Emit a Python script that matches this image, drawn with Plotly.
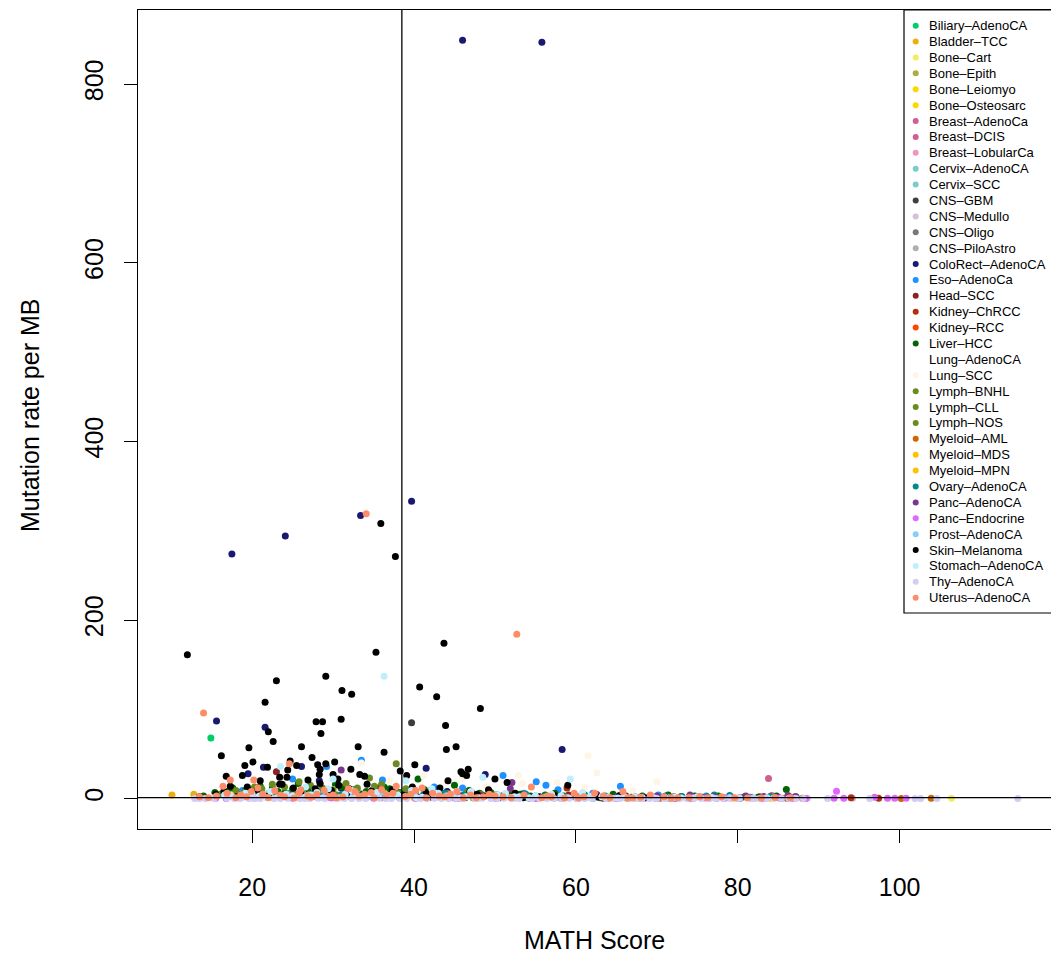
import plotly.graph_objects as go

# ---- data: (MATH score, mutations per MB) per cancer type ----
cancer_types = [
    "Biliary-AdenoCA", "Bladder-TCC", "Bone-Cart", "Bone-Epith", "Bone-Leiomyo",
    "Bone-Osteosarc", "Breast-AdenoCa", "Breast-DCIS", "Breast-LobularCa",
    "Cervix-AdenoCA", "Cervix-SCC", "CNS-GBM", "CNS-Medullo", "CNS-Oligo",
    "CNS-PiloAstro", "ColoRect-AdenoCA", "Eso-AdenoCa", "Head-SCC", "Kidney-ChRCC",
    "Kidney-RCC", "Liver-HCC", "Lung-AdenoCA", "Lung-SCC", "Lymph-BNHL",
    "Lymph-CLL", "Lymph-NOS", "Myeloid-AML", "Myeloid-MDS", "Myeloid-MPN",
    "Ovary-AdenoCA", "Panc-AdenoCA", "Panc-Endocrine", "Prost-AdenoCA",
    "Skin-Melanoma", "Stomach-AdenoCA", "Thy-AdenoCA", "Uterus-AdenoCA",
]

type_colors = [
    "#00CD66", "#EEAD0E", "#F0EE60", "#ADAC44", "#FFD700",
    "#FFD700", "#CD6090", "#CD6090", "#F095BD",
    "#79CDCD", "#79CDCD", "#3D3D3D", "#D8BFD8", "#787878",
    "#B0B0B0", "#191970", "#1E90FF", "#8B2323", "#B32F0B",
    "#FF4500", "#006400", "#FFFFFF", "#FDF5E6", "#698B22",
    "#698B22", "#698B22", "#CD6600", "#FFC100", "#FFC100",
    "#008B8B", "#7A378B", "#E066FF", "#87CEFA",
    "#000000", "#BFEFFF", "#D3CCF5", "#FF8C69",
]

biliary = [(14.9, 68), (18.5, 4), (22.0, 2), (26.8, 3), (31.2, 1.5), (35.0, 5), (41.0, 2.5),
           (47.9, 1), (55.0, 3), (62.2, 2), (70.1, 1.2), (24.5, 6), (38.2, 1)]
bladder = [(10.1, 4), (12.8, 5), (17.5, 12), (24.0, 6), (29.3, 8), (33.0, 3), (39.4, 10),
           (44.0, 4), (52.0, 2), (60.5, 3), (36.2, 7), (47.5, 2)]
bone_cart = [(44.2, 0.5), (58.1, 0.6), (66.3, 0.4), (74.0, 0.3), (106.4, 0.5)]
bone_epith = [(30.2, 1), (47.3, 0.8), (63.1, 0.7), (76.4, 1.2)]
bone_leiomyo = [(35.1, 0.9), (52.4, 0.7), (68.2, 0.6), (79.3, 0.5)]
bone_osteosarc = [(26.3, 2), (41.2, 1.5), (55.4, 1.0), (64.2, 1.8), (72.3, 0.8), (84.5, 0.6)]
breast_adeno = [(19.8, 3), (24.6, 5), (29.1, 2), (33.7, 4), (38.1, 3), (43.2, 2), (48.3, 1.5),
                (53.3, 2.5), (58.4, 1), (64.1, 1.2), (71.2, 0.9), (77.3, 1.5), (83.8, 22.6),
                (84.2, 3.5), (22.5, 1.5), (27.0, 7), (31.8, 5), (36.4, 2), (41.5, 4), (46.0, 3),
                (50.7, 1), (56.1, 2), (61.0, 1.5), (67.5, 1), (74.6, 0.8), (80.5, 1.2), (86.8, 0.6)]
breast_dcis = [(36.0, 1.0), (50.2, 1.2)]
breast_lobular = [(28.0, 1.5), (40.3, 1.2), (57.2, 0.8), (45.1, 2)]
cervix_adeno = [(30.2, 4), (45.3, 3)]
cervix_scc = [(23.3, 5), (33.2, 7), (42.1, 4), (50.3, 3), (61.2, 2), (27.5, 9)]
cns_gbm = [(39.7, 85), (28.2, 2), (37.1, 1.5), (46.3, 1), (54.2, 0.8), (63.4, 0.5), (70.5, 0.6)]
cns_medullo = [(40.1, 0.3), (45.7, 0.2), (50.2, 0.4), (55.3, 0.3), (60.4, 0.3), (65.0, 0.2),
               (70.3, 0.2), (74.1, 0.4), (78.2, 0.3), (82.0, 0.2), (86.1, 0.2), (88.6, 0.3), (94.2, 0.3)]
cns_oligo = [(45.2, 0.5), (60.1, 0.4), (72.3, 0.3), (66.4, 0.5)]
cns_piloastro = [(58.2, 0.1), (62.1, 0.1), (68.0, 0.1), (71.6, 0.1), (74.2, 0.15), (77.4, 0.1),
                 (80.3, 0.1), (83.0, 0.1), (86.2, 0.12)]
colorect = [(46.0, 849), (55.8, 847), (39.7, 333), (33.4, 317), (24.1, 294), (17.5, 274),
            (15.6, 87), (21.6, 80), (58.3, 55), (41.5, 34), (48.8, 27), (19.5, 28), (21.4, 35),
            (26.1, 36), (31.0, 12), (36.0, 6), (44.1, 8), (52.0, 4), (60.2, 3), (66.0, 2),
            (28.3, 20), (34.8, 9)]
eso = [(33.5, 43), (51.0, 26), (55.1, 19), (56.3, 15), (65.5, 14), (57.8, 10), (42.5, 13),
       (18.8, 9), (25.0, 22), (29.2, 36), (36.1, 21), (46.0, 12), (62.1, 6), (70.2, 4), (76.1, 3),
       (23.1, 7), (39.0, 5), (49.3, 8), (53.6, 6), (59.8, 5)]
head_scc = [(23.0, 30), (31.5, 14), (40.1, 9), (47.2, 6), (53.3, 5), (59.1, 4), (66.2, 3),
            (74.0, 2), (35.6, 12), (27.9, 4)]
kidney_chrcc = [(94.0, 1), (97.4, 0.5), (80.2, 0.8), (86.1, 0.6), (58.9, 12), (82.7, 2)]
kidney_rcc = [(28.1, 2.5), (36.2, 2), (44.0, 3), (51.2, 1.5), (57.0, 1.8), (65.1, 1.2),
              (72.0, 1), (78.3, 0.9)]
liver = [(86.0, 10.3), (45.0, 15), (40.5, 22), (16.9, 8), (25.7, 17), (20.0, 10), (22.5, 12),
         (28.5, 9), (31.0, 13), (34.1, 8), (37.0, 11), (42.0, 7), (48.1, 6), (52.0, 5), (56.2, 4),
         (61.0, 3.5), (67.1, 3), (73.0, 2.5), (79.1, 2), (18.2, 5), (24.0, 6), (26.9, 11),
         (29.8, 7), (32.6, 10), (35.5, 6), (39.3, 9), (43.6, 5), (50.3, 4), (54.4, 3), (58.5, 3),
         (63.6, 2.5), (70.0, 2), (76.2, 1.8), (82.5, 1.5), (84.8, 3),
         (14.0, 3), (15.4, 7), (17.6, 12), (19.2, 9), (21.0, 14), (23.2, 8), (25.0, 11),
         (27.6, 6), (30.3, 16), (33.6, 5), (36.3, 13), (38.2, 7), (41.3, 10), (44.3, 4),
         (46.8, 9), (49.5, 7), (53.1, 5), (57.4, 6), (60.0, 4), (64.6, 5), (68.2, 3), (71.4, 4),
         (74.7, 3), (77.6, 3), (80.9, 2.5), (87.1, 2)]
lung_adeno = [(30.1, 10), (45.3, 8), (60.0, 5), (38.8, 14)]
lung_scc = [(61.5, 48), (62.6, 29), (70.0, 19), (52.9, 26), (57.7, 18), (61.1, 13), (67.0, 9),
            (53.4, 17), (33.5, 40), (46.0, 22), (41.2, 25), (37.0, 20), (49.0, 14), (44.0, 18)]
lymph_bnhl = [(37.8, 39), (34.5, 23), (21.2, 11), (27.2, 15), (24.0, 13), (30.0, 10), (33.0, 12),
              (40.2, 8), (44.1, 6), (50.0, 4), (19.0, 7), (36.0, 16),
              (16.0, 5), (18.0, 9), (20.3, 13), (22.5, 16), (25.8, 19), (28.7, 12), (31.6, 17),
              (35.1, 14), (39.0, 11), (42.0, 9), (46.5, 7), (48.3, 5)]
lymph_cll = [(18.1, 4), (23.0, 3), (28.2, 3.5), (32.1, 2.5), (36.3, 2), (42.0, 1.5), (48.0, 1),
             (25.5, 5), (30.5, 4)]
lymph_nos = [(26.1, 8), (38.1, 6)]
myeloid_aml = [(100.2, 0.2), (103.9, 0.4), (55.1, 0.5), (64.0, 0.4), (70.2, 0.3), (80.1, 0.3),
               (88.0, 0.3), (85.5, 0.5)]
myeloid_mds = [(35.0, 2), (50.1, 1), (17.6, 3)]
myeloid_mpn = [(40.0, 1), (55.3, 0.8), (68.1, 0.5), (84.0, 0.5)]
ovary = [(20.1, 3), (26.0, 4), (31.1, 5), (36.0, 6), (41.2, 5), (46.1, 4), (51.0, 3.5), (56.2, 3),
         (61.1, 4), (66.0, 2.5), (71.1, 3), (75.2, 2), (79.0, 3.5), (84.0, 2.5), (23.4, 2),
         (28.6, 6), (33.9, 3), (38.7, 4), (43.8, 6), (48.5, 2), (53.8, 5), (58.7, 2), (63.6, 3),
         (68.4, 1.8), (73.1, 2.5), (77.1, 4), (81.6, 1.5), (86.4, 2)]
panc_adeno = [(31.0, 32), (52.1, 18), (51.9, 11), (22.0, 3), (27.1, 4), (33.0, 2.5), (38.1, 3),
              (43.0, 2), (48.1, 4), (55.0, 2.5), (60.0, 3), (65.1, 2), (70.0, 3), (74.1, 4),
              (77.0, 2.5), (81.0, 3), (85.0, 1.5), (87.2, 2), (24.6, 2), (29.6, 1.5), (35.6, 4),
              (40.6, 1.5), (45.6, 3), (50.4, 2), (57.5, 1.5), (62.6, 4.5), (67.5, 1.5), (72.1, 2),
              (75.6, 1.5), (79.0, 1), (83.2, 2.5), (86.2, 3.5)]
panc_endocrine = [(92.2, 8.4), (91.9, 0.5), (93.1, 0.5), (96.9, 1.5), (98.5, 0.3), (99.4, 0.5),
                  (100.8, 0.5), (15.5, 0.3), (16.8, 0.2), (25.0, 0.5), (35.0, 0.4), (45.0, 0.6),
                  (55.0, 0.5), (65.0, 0.4), (72.0, 0.8), (76.0, 0.6), (80.0, 0.5), (83.0, 0.4),
                  (87.0, 0.3), (88.4, 0.2), (20.3, 0.4), (29.8, 0.6), (40.2, 0.3), (50.1, 0.4),
                  (60.2, 0.5), (68.6, 0.7), (74.3, 0.4), (78.4, 0.3), (81.6, 0.6), (85.2, 0.5),
                  (86.6, 0.8), (69.8, 0.3)]
prost = [(36.2, 5), (22.0, 6), (27.0, 4), (32.0, 3), (40.0, 4), (45.0, 3.5), (50.0, 2), (55.0, 2.5),
         (60.0, 2), (64.0, 1.5), (69.0, 1.8), (74.0, 1), (79.0, 1.2), (18.4, 2), (24.5, 1.5),
         (29.6, 2.5), (34.2, 1.5), (38.2, 2), (42.6, 1), (47.4, 1.5), (52.6, 1), (57.5, 1.2),
         (62.2, 1), (66.7, 0.8), (71.5, 0.9), (76.7, 0.6), (82.0, 0.8)]
skin = [(12.0, 161), (35.3, 164), (23.0, 132), (29.1, 137), (31.1, 121), (32.3, 117), (21.6, 108),
        (27.9, 86), (28.7, 86), (31.0, 89), (28.5, 73), (22.0, 75), (22.6, 64), (19.6, 57),
        (26.1, 58), (33.1, 58), (16.2, 48), (36.3, 52), (27.4, 46), (40.1, 38), (40.7, 125),
        (43.7, 174), (42.8, 114), (48.2, 101), (43.9, 82), (44.0, 55), (45.2, 58), (45.8, 30),
        (46.0, 28), (46.5, 26), (46.7, 33), (39.1, 26), (50.0, 22), (51.5, 18), (44.2, 20),
        (59.0, 15), (35.9, 308), (37.7, 271), (20.1, 41), (21.9, 35), (25.5, 37), (28.1, 38),
        (29.1, 39), (30.2, 41), (32.2, 33), (28.4, 33), (28.3, 27), (30.0, 27), (19.1, 37),
        (18.8, 26), (16.8, 25), (15.5, 5), (19.4, 13), (23.4, 24), (24.3, 24), (24.4, 32),
        (24.7, 42), (26.9, 21), (28.4, 17), (30.6, 22), (33.3, 27), (34.2, 16), (32.0, 11),
        (30.7, 15), (38.3, 31), (23.4, 16), (23.7, 16), (33.9, 25), (50.6, 1.5), (59.9, 2),
        (65.4, 3.5), (36.5, 1), (42.0, 2), (45.5, 1), (27.0, 2), (22.0, 3), (18.0, 2), (38.6, 4),
        (48.7, 3), (53.5, 1),
        (13.5, 2), (16.5, 8), (17.3, 14), (20.6, 9), (21.0, 20), (25.1, 12), (26.0, 7),
        (27.8, 11), (29.8, 9), (31.7, 6), (34.8, 8), (37.3, 10), (39.8, 13), (41.5, 7),
        (43.2, 12), (46.9, 8), (47.8, 5), (49.2, 10), (52.5, 6), (55.5, 2), (57.3, 4),
        (62.8, 1.5), (68.5, 1), (71.0, 2)]
stomach = [(36.3, 137), (59.3, 22), (48.5, 24), (51.3, 6), (23.5, 36), (30.0, 22), (39.0, 20),
           (42.2, 11), (20.0, 5), (25.0, 3), (28.0, 7), (33.0, 2), (38.0, 4), (44.0, 3), (47.0, 8),
           (53.0, 2), (57.0, 5), (62.0, 3), (66.0, 2), (71.0, 1.5), (75.0, 2), (17.5, 2), (21.8, 1),
           (26.5, 1.5), (30.8, 1), (34.6, 4), (36.8, 1), (41.0, 1.5), (43.0, 6), (45.7, 1),
           (49.6, 2), (51.9, 1), (55.0, 3), (59.0, 1), (60.8, 7), (64.0, 1), (68.2, 1), (73.0, 0.8),
           (78.0, 1), (32.3, 9), (26.6, 13),
           (15.2, 1), (16.6, 4), (18.8, 1), (19.2, 6), (20.9, 3), (22.3, 8), (23.1, 1), (24.2, 5),
           (27.3, 4), (28.8, 1), (29.4, 11), (31.5, 5), (33.8, 1), (35.4, 7), (37.5, 2), (39.7, 9),
           (40.3, 1), (42.8, 2), (44.8, 5), (46.4, 2), (48.0, 1), (50.3, 4), (52.4, 2), (54.2, 1),
           (56.3, 1.5), (58.2, 3), (61.5, 1), (63.2, 2), (65.2, 0.8), (67.3, 2), (69.6, 1),
           (72.2, 1.5), (74.5, 0.6), (76.8, 1.2), (80.2, 0.8), (83.6, 1)]
thy = [(12.9, 0.1), (14.2, 0.2), (15.3, 0.1), (16.9, 0.3), (17.8, 0.1), (19.6, 0.2), (21.0, 0.1),
       (22.7, 0.2), (24.4, 0.3), (25.9, 0.1), (27.1, 0.2), (29.0, 0.1), (30.6, 0.4), (32.3, 0.2),
       (34.0, 0.1), (35.7, 0.3), (37.2, 0.2), (39.1, 0.1), (40.8, 0.2), (42.5, 0.3), (44.3, 0.1),
       (46.0, 0.2), (47.6, 0.1), (49.5, 0.2), (51.1, 0.3), (53.0, 0.1), (54.6, 0.2), (56.4, 0.1),
       (58.3, 0.2), (60.1, 0.1), (62.0, 0.3), (63.7, 0.2), (65.5, 0.1), (67.4, 0.2), (69.1, 0.1),
       (71.0, 0.2), (72.8, 0.1), (74.6, 0.3), (76.5, 0.2), (78.2, 0.1), (80.0, 0.2), (81.9, 0.1),
       (83.5, 0.2), (85.4, 0.1), (87.2, 0.2), (91.1, 0.2), (96.3, 0.1), (101.9, 0.1), (102.6, 0.2),
       (104.6, 0.2), (114.6, 0.1),
       (13.5, 0.05), (18.5, 0.1), (20.3, 0.05), (23.5, 0.15), (26.5, 0.05), (28.2, 0.3),
       (31.4, 0.1), (33.2, 0.05), (36.5, 0.1), (38.3, 0.2), (41.6, 0.05), (43.4, 0.2),
       (45.2, 0.1), (48.4, 0.3), (50.3, 0.05), (52.1, 0.1), (55.5, 0.2), (57.3, 0.05),
       (59.2, 0.3), (61.1, 0.1), (64.6, 0.05), (66.5, 0.3), (68.2, 0.1), (70.0, 0.05),
       (73.7, 0.2), (75.5, 0.1), (77.3, 0.05), (79.1, 0.3), (82.7, 0.1), (84.4, 0.3),
       (86.3, 0.05), (88.1, 0.1)]
uterus = [(34.1, 319), (52.7, 184), (14.0, 96), (16.4, 14), (17.3, 21), (20.2, 21), (20.7, 12),
          (24.6, 39), (37.8, 14), (36.0, 10), (40.2, 9), (44.5, 5), (54.5, 13), (65.8, 8),
          (59.8, 6), (62.3, 6), (70.9, 2), (28.0, 5), (31.2, 2), (33.9, 5), (26.0, 10), (47.0, 4),
          (50.0, 3), (57.0, 2), (68.0, 1.5), (74.0, 1), (78.0, 2), (13.5, 2), (18.0, 1), (15.6, 3),
          (19.3, 2), (22.0, 1), (23.5, 4), (25.2, 0.8), (27.3, 1.5), (29.6, 2), (30.4, 0.6),
          (32.7, 8), (35.1, 1), (38.9, 2.5), (41.5, 1), (43.1, 3), (46.1, 1), (48.6, 2), (52.0, 1),
          (55.8, 1), (58.6, 0.8), (61.0, 2), (64.2, 1), (67.0, 0.8), (72.6, 1), (76.3, 0.9),
          (81.2, 0.8), (84.6, 1.2),
          (14.6, 1), (16.9, 6), (18.6, 4), (19.9, 8), (21.3, 5), (22.8, 9), (24.0, 2), (25.8, 6),
          (26.9, 3), (28.9, 9), (30.0, 4), (31.9, 11), (33.2, 3), (34.7, 7), (36.6, 4), (37.4, 6),
          (39.6, 5), (41.0, 12), (42.3, 6), (43.8, 2), (45.3, 8), (47.7, 1), (49.3, 5), (51.0, 2),
          (53.6, 4), (56.5, 3), (60.3, 1), (63.4, 3), (66.4, 1), (69.2, 4), (71.8, 0.6),
          (75.3, 2), (79.6, 1), (82.9, 0.7), (86.5, 1)]

type_points = [
    biliary, bladder, bone_cart, bone_epith, bone_leiomyo, bone_osteosarc, breast_adeno,
    breast_dcis, breast_lobular, cervix_adeno, cervix_scc, cns_gbm, cns_medullo, cns_oligo,
    cns_piloastro, colorect, eso, head_scc, kidney_chrcc, kidney_rcc, liver, lung_adeno,
    lung_scc, lymph_bnhl, lymph_cll, lymph_nos, myeloid_aml, myeloid_mds, myeloid_mpn, ovary,
    panc_adeno, panc_endocrine, prost, skin, stomach, thy, uterus,
]

math_cutoff = 38.5       # vertical reference line
rate_reference = 1.2     # horizontal reference line

x_ticks = [20, 40, 60, 80, 100]
y_ticks = [0, 200, 400, 600, 800]

# ---- figure geometry (pixels) ----
W, H = 1051, 955
ML, MR, MT, MB = 138, 0, 10, 126
FONT = "Liberation Sans, Helvetica, Arial, sans-serif"

fig = go.Figure()

for name, color, pts in zip(cancer_types, type_colors, type_points):
    fig.add_trace(go.Scatter(
        x=[p[0] for p in pts], y=[p[1] for p in pts],
        mode="markers", name=name, showlegend=False,
        marker=dict(color=color, size=7, line=dict(width=0)),
        hovertemplate=name + "<br>MATH %{x}<br>rate %{y}<extra></extra>",
    ))

# ---- legend box drawn on a pixel-unit overlay axis ----
leg_left, leg_top, leg_bottom = 904, 10, 613
leg_first, leg_step = 25.7, 15.89
leg_dot_x, leg_text_x = 915.7, 926.5
leg_y = [leg_first + i * leg_step for i in range(len(cancer_types))]

fig.add_trace(go.Scatter(
    x=[leg_dot_x] * len(cancer_types), y=leg_y,
    xaxis="x2", yaxis="y2", mode="markers", showlegend=False, hoverinfo="skip",
    marker=dict(color=type_colors, size=6, line=dict(width=0)),
))

annotations = []
for name, yy in zip(cancer_types, leg_y):
    annotations.append(dict(
        x=leg_text_x, y=yy, xref="x2", yref="y2", text=name.replace("-", "\u2013"),
        showarrow=False, xanchor="left", yanchor="middle",
        font=dict(family=FONT, size=13, color="black"),
    ))

# axis titles
plot_w = W - ML - MR
plot_h = H - MT - MB
annotations.append(dict(
    x=(594 - ML) / plot_w, y=(H - MB - 940) / plot_h, xref="paper", yref="paper",
    text="MATH Score", showarrow=False, xanchor="center", yanchor="middle",
    font=dict(family=FONT, size=25, color="black"),
))
annotations.append(dict(
    x=(30 - ML) / plot_w, y=(H - MB - 416) / plot_h, xref="paper", yref="paper",
    text="Mutation rate per MB", showarrow=False, xanchor="center", yanchor="middle",
    textangle=-90, font=dict(family=FONT, size=25, color="black"),
))

shapes = [
    dict(type="rect", xref="x2", yref="y2", x0=leg_left, x1=W + 2, y0=leg_top, y1=leg_bottom,
         line=dict(color="black", width=1.2), fillcolor="white", layer="below"),
    dict(type="line", xref="x", yref="paper", x0=math_cutoff, x1=math_cutoff, y0=0, y1=1,
         line=dict(color="black", width=1.3)),
    dict(type="line", xref="paper", yref="y", x0=0, x1=1, y0=rate_reference, y1=rate_reference,
         line=dict(color="black", width=1.3)),
]

fig.update_layout(
    width=W, height=H,
    margin=dict(l=ML, r=MR, t=MT, b=MB, pad=0),
    paper_bgcolor="white", plot_bgcolor="white",
    font=dict(family=FONT, size=25, color="black"),
    showlegend=False,
    xaxis=dict(
        range=[5.9, 118.7], tickvals=x_ticks, ticktext=[str(v) for v in x_ticks],
        ticks="outside", ticklen=13, tickwidth=1.2, tickcolor="black",
        showline=True, mirror=True, linecolor="black", linewidth=1.2,
        showgrid=False, zeroline=False, ticklabelstandoff=23,
        tickfont=dict(family=FONT, size=25),
    ),
    yaxis=dict(
        range=[-34, 883], tickvals=y_ticks, ticktext=[str(v) for v in y_ticks],
        ticks="outside", ticklen=13, tickwidth=1.2, tickcolor="black",
        showline=True, mirror=True, linecolor="black", linewidth=1.2,
        showgrid=False, zeroline=False, tickangle=-90, ticklabelstandoff=11,
        tickfont=dict(family=FONT, size=25),
    ),
    xaxis2=dict(overlaying="x", range=[ML, W], visible=False, fixedrange=True),
    yaxis2=dict(overlaying="y", range=[H - MB, MT], visible=False, fixedrange=True),
    shapes=shapes,
    annotations=annotations,
)

fig.write_html("out.html")
